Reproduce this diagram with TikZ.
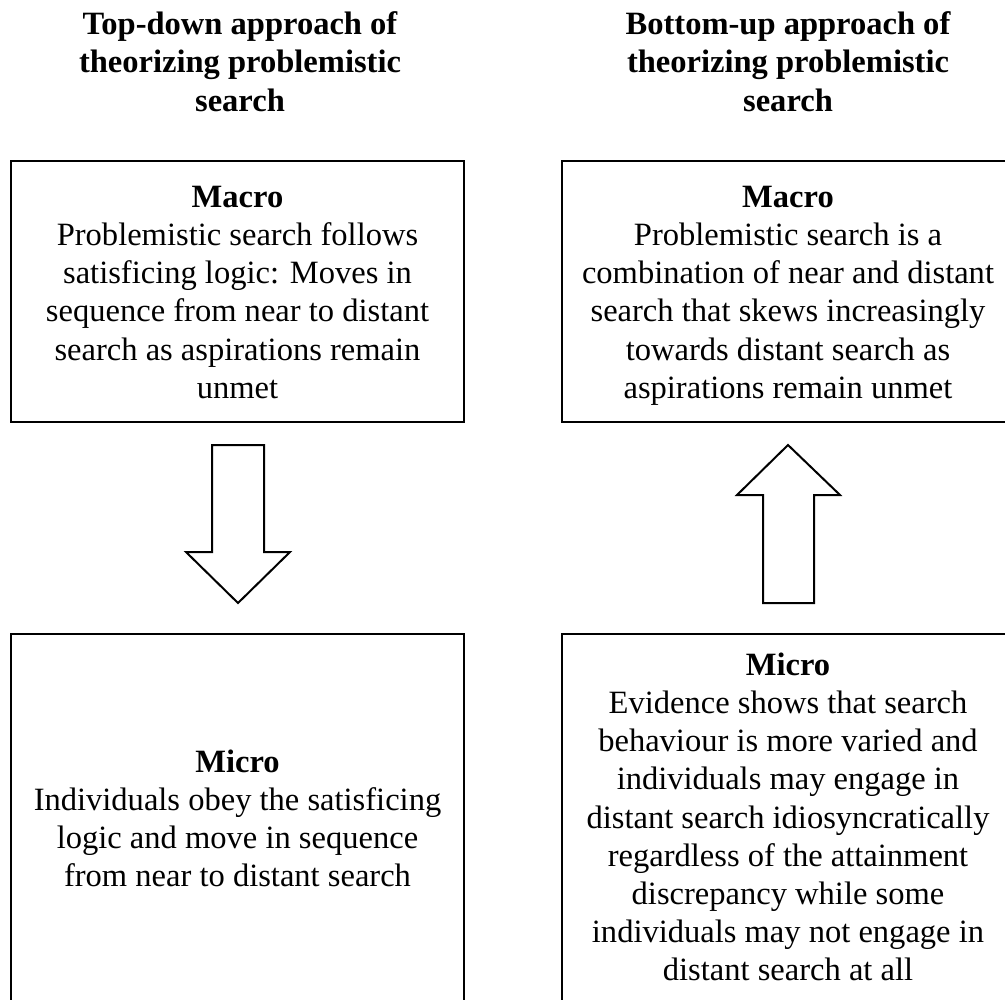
\documentclass[tikz,border=0pt]{standalone}
\usepackage{fontspec}
\setmainfont{Liberation Serif}
\newcommand{\mytopstrut}{\rule{0pt}{24pt}}
\begin{document}
\begin{tikzpicture}[x=0.75pt,y=-0.75pt,
  txt/.style={anchor=north,inner sep=0pt,align=center,font=\fontsize{24.4pt}{28.65pt}\selectfont},
  frame/.style={draw=black,line width=1.5pt},
  blockarrow/.style={draw=black,line width=1.5pt,fill=white,line join=miter}]
\useasboundingbox (0,0) rectangle (1005,999);
\clip (0,0) rectangle (1005,999);

% headings
\node[txt,font=\fontsize{24.4pt}{28.9pt}\selectfont\bfseries] (hl) at (240,2)
  {\mytopstrut Top-down approach of\\theorizing problemistic\\search};
\node[txt,font=\fontsize{24.4pt}{28.9pt}\selectfont\bfseries] (hr) at (788,2)
  {\mytopstrut Bottom-up approach of\\theorizing problemistic\\search};

% boxes
\draw[frame] (11,161) rectangle (464,422);
\draw[frame] (562,161) rectangle (1015,422);
\draw[frame] (11,634) rectangle (464,1010);
\draw[frame] (562,634) rectangle (1015,1010);

% box texts
\node[txt] (macl) at (237.5,175)
  {\mytopstrut\textbf{Macro}\\Problemistic search follows\\satisficing logic: Moves in\\sequence from near to distant\\search as aspirations remain\\unmet};
\node[txt] (macr) at (788,175)
  {\mytopstrut\textbf{Macro}\\Problemistic search is a\\combination of near and distant\\search that skews increasingly\\towards distant search as\\aspirations remain unmet};
\node[txt] (micl) at (237.5,740)
  {\mytopstrut\textbf{Micro}\\Individuals obey the satisficing\\logic and move in sequence\\from near to distant search};
\node[txt] (micr) at (788,643)
  {\mytopstrut\textbf{Micro}\\Evidence shows that search\\behaviour is more varied and\\individuals may engage in\\distant search idiosyncratically\\regardless of the attainment\\discrepancy while some\\individuals may not engage in\\distant search at all};

% block arrows
\draw[blockarrow] (212,445) -- (264,445) -- (264,552) -- (290,552) -- (238,603)
  -- (186,552) -- (212,552) -- cycle;
\draw[blockarrow] (763,603) -- (814,603) -- (814,495) -- (840,495) -- (788,445)
  -- (737,495) -- (763,495) -- cycle;
\end{tikzpicture}
\end{document}
